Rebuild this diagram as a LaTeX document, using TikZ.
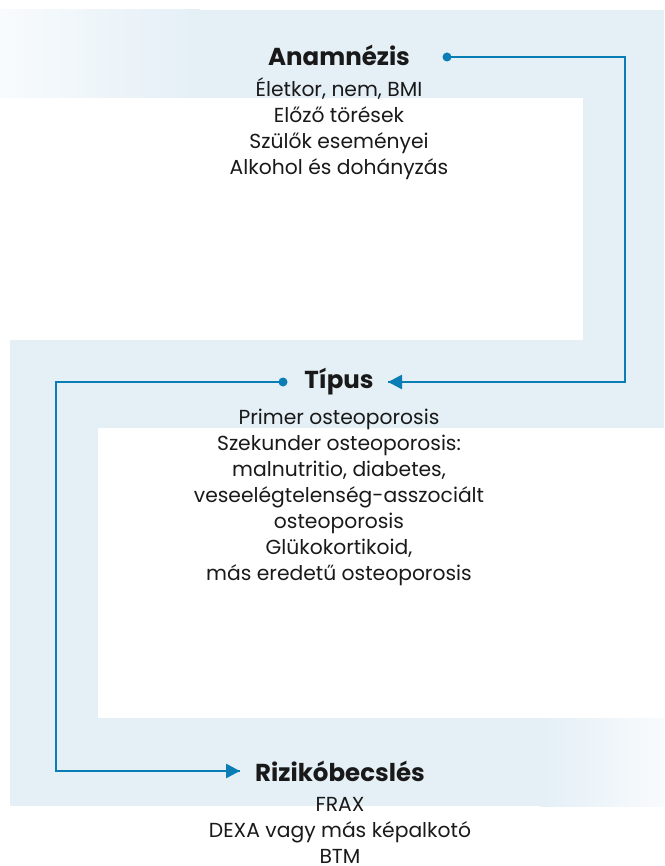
\documentclass[tikz,border=0pt]{standalone}
\usepackage{fontspec}
\setmainfont{Poppins}
\usetikzlibrary{arrows.meta}
\definecolor{band}{RGB}{228,239,246}
\definecolor{bandlight}{RGB}{248,251,253}
\definecolor{lineblue}{RGB}{10,125,181}
\definecolor{ink}{RGB}{25,25,25}
\tikzset{
  head/.style={font=\fontsize{24.5}{28}\selectfont\bfseries, text=ink, inner sep=0pt, anchor=center},
  body/.style={font=\fontsize{20.3}{26}\selectfont, text=ink, align=center, inner sep=0pt, anchor=north},
  flow/.style={draw=lineblue, line width=2.6pt},
  tip/.style={-{Triangle[length=14pt,width=14pt]}},
  dot/.style={fill=lineblue},
}
\begin{document}
\begin{tikzpicture}[x=1pt,y=-1pt]
\useasboundingbox (0,0) rectangle (664,866);
% background bands
\fill[band] (0,10) rectangle (664,98);
\shade[left color=bandlight, right color=band] (0,10) rectangle (200,98);
\fill[band] (583,10) rectangle (664,428);
\fill[band] (10,340) rectangle (664,428);
\fill[band] (10,340) rectangle (98,806);
\fill[band] (10,718) rectangle (540,806);
\shade[left color=band, right color=bandlight] (540,718) rectangle (664,806);
% nodes
\node[head] (anam) at (339,55) {Anamnézis};
\node[body] (anamtext) at (339,77) {Életkor, nem, BMI\\Előző törések\\Szülők eseményei\\Alkohol és dohányzás};
\node[head] (tipus) at (339,382) {Típus};
\node[body] (tipustext) at (339,409) {Primer osteoporosis\\Szekunder osteoporosis:\\malnutritio, diabetes,\\veseelégtelenség-asszociált\\osteoporosis\\Glükokortikoid,\\más eredetű osteoporosis};
\node[head] (riziko) at (340,771) {Rizikóbecslés};
\node[body] (rizikotext) at (340,797) {FRAX\\DEXA vagy más képalkotó\\BTM};
% connector coordinates
\coordinate (d1) at (447,57);
\coordinate (c1) at (625,382);
\coordinate (t1) at (388,382);
\coordinate (d2) at (283,382);
\coordinate (c2) at (56,771);
\coordinate (t2) at (240,771);
% connectors
\draw[flow] (d1) -| (c1) -- (t1);
\draw[flow,tip] ([xshift=-2pt]c1) -- (t1);
\draw[flow] (d2) -| (c2) -- (t2);
\draw[flow,tip] ([xshift=2pt]c2) -- (t2);
\fill[dot] (d1) circle (4.5);
\fill[dot] (d2) circle (4.5);
\end{tikzpicture}
\end{document}
